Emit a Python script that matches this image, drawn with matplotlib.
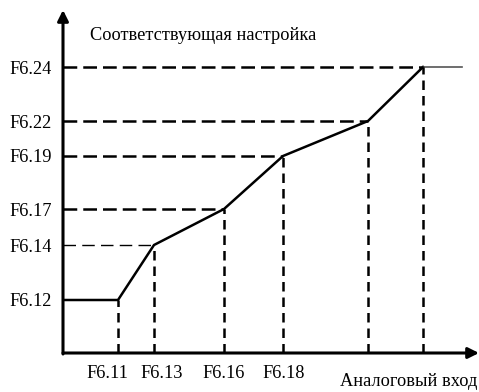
import matplotlib.pyplot as plt

# Break points of the characteristic (input vs. corresponding setting)
x_labels = ["F6.11", "F6.13", "F6.16", "F6.18"]
x_label_pos = [44, 99, 161, 221]
y_labels = ["F6.12", "F6.14", "F6.17", "F6.19", "F6.22", "F6.24"]
x_points = [55, 91, 161, 220, 305, 360]
y_points = [53, 108, 144, 197, 232, 286]
x_end = 399

plt.rcParams['font.family'] = ['Liberation Serif', 'DejaVu Serif']
fs = 13.2

fig = plt.figure(figsize=(4.79, 3.92), dpi=100)
ax = fig.add_axes([63 / 479, 39 / 392, 416 / 479, 343 / 392])
ax.set_xlim(0, 416)
ax.set_ylim(0, 343)
for s in ax.spines.values():
    s.set_visible(False)

# characteristic curve: flat start, broken line through the points, flat end
cx = [0] + x_points
cy = [y_points[0]] + y_points
ax.plot(cx, cy, color='black', lw=1.8, solid_joinstyle='miter')
ax.plot([x_points[-1], x_end], [y_points[-1], y_points[-1]], color='#555555', lw=1.2)

# dashed guides to both axes
for i, (x, y) in enumerate(zip(x_points, y_points)):
    ax.plot([x, x], [0, y], color='black', lw=1.8, dashes=(3.8, 2.4))
    if i == 0:
        continue
    lw = 1.0 if i == 1 else 1.8
    ax.plot([0, x], [y, y], color='black', lw=lw,
            dashes=(5.5, 2.4) if lw > 1.5 else (9, 4.5))

# axes with arrows
ax.annotate('', xy=(416, 0), xytext=(0, 0), annotation_clip=False,
            arrowprops=dict(arrowstyle='-|>', lw=2.2, color='black',
                            mutation_scale=16, shrinkA=0, shrinkB=0))
ax.annotate('', xy=(0, 343), xytext=(0, -1), annotation_clip=False,
            arrowprops=dict(arrowstyle='-|>', lw=2.2, color='black',
                            mutation_scale=16, shrinkA=0, shrinkB=0))

ax.set_yticks(y_points)
ax.set_yticklabels(y_labels, fontsize=fs)
ax.set_xticks(x_label_pos)
ax.set_xticklabels(x_labels, fontsize=fs)
ax.tick_params(length=0)
ax.tick_params(axis='y', pad=8)
ax.tick_params(axis='x', pad=9)

fig.text(90 / 479, 1 - 35 / 392, "Соответствующая настройка",
         fontsize=fs, ha='left', va='center')
fig.text(340 / 479, 1 - 382 / 392, "Аналоговый вход",
         fontsize=fs, ha='left', va='center')

fig.savefig('out.png', dpi=100)
